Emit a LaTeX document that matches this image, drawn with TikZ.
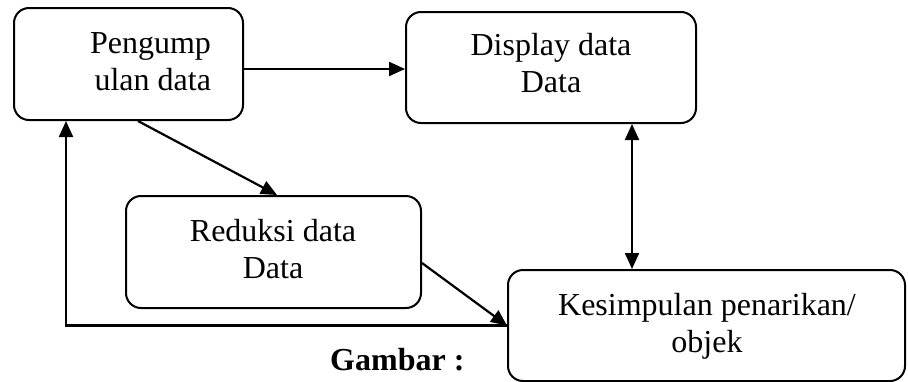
\documentclass[tikz,border=0pt]{standalone}
\usepackage{fontspec}
\setmainfont{Liberation Serif}
\usetikzlibrary{arrows.meta,calc}
\begin{document}
\begin{tikzpicture}[x=1pt,y=-1pt,
  box/.style={draw=black,line width=2pt,rounded corners=15pt,inner sep=0pt},
  lbl/.style={inner sep=0pt,font=\fontsize{32}{37}\selectfont},
  tip/.style={},
  arr/.style={line width=2.2pt,-{Triangle[length=16pt,width=14pt]}},
  darr/.style={line width=2.2pt,{Triangle[length=16pt,width=14pt]}-{Triangle[length=16pt,width=14pt]}}]
\useasboundingbox (0,0) rectangle (908,381);
\node[box,minimum width=229pt,minimum height=112pt] (A) at (128.5,64) {};
\node[box,minimum width=290pt,minimum height=111pt] (B) at (551,67.5) {};
\node[box,minimum width=295pt,minimum height=112pt] (C) at (273.5,252) {};
\node[box,minimum width=397pt,minimum height=111pt] (D) at (706.5,325.5) {};
\node[lbl,align=right] (At) at (150.5,62) {Pengump\\ulan data};
\node[lbl,align=center] (Bt) at (551,63) {Display data\\Data};
\node[lbl,align=center] (Ct) at (273,249) {Reduksi data\\Data};
\node[lbl,align=center] (Dt) at (707,326) {Kesimpulan penarikan/\\objek};
\node[lbl,font=\fontsize{32}{37}\selectfont\bfseries,anchor=base west] (G) at (330,370) {Gambar :};
\draw[arr] ([yshift=-5pt]A.east) -- ([yshift=-5pt]A.east -| B.west);
\draw[arr] ([xshift=9.5pt]A.south) -- ([xshift=3.5pt]C.north);
\draw[arr] ([yshift=-11pt]C.east) -- (D.west);
\draw[arr] (D.west) -| ([xshift=-62.5pt]A.south);
\draw[darr] ([xshift=81pt]B.south) -- ([xshift=81pt]B.south |- D.north);
\end{tikzpicture}
\end{document}
